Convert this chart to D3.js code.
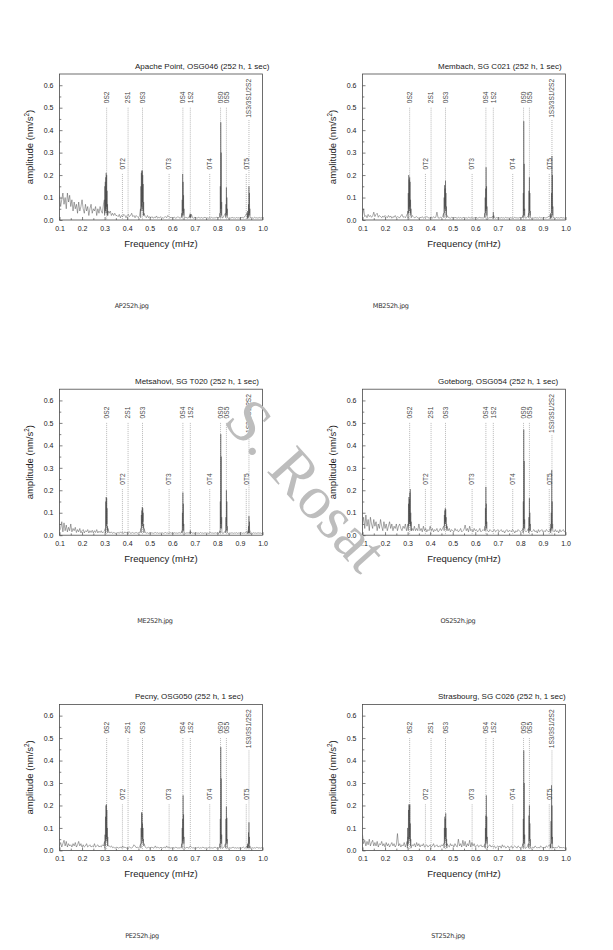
<!DOCTYPE html>
<html>
<head>
<meta charset="utf-8">
<script src="https://cdn.jsdelivr.net/npm/d3@7/dist/d3.min.js"></script>
<style>
html,body{margin:0;padding:0;background:#fff;}
svg{display:block;}
</style>
</head>
<body>
<script>
// ---------- DATA ----------
const stationTitles = [
  "Apache Point, OSG046 (252 h, 1 sec)",
  "Membach, SG C021 (252 h, 1 sec)",
  "Metsahovi, SG T020 (252 h, 1 sec)",
  "Goteborg, OSG054 (252 h, 1 sec)",
  "Pecny, OSG050 (252 h, 1 sec)",
  "Strasbourg, SG C026 (252 h, 1 sec)"
];
const captions = ["AP252h.jpg","MB252h.jpg","ME252h.jpg","OS252h.jpg","PE252h.jpg","ST252h.jpg"];
const freqTicks = [0.1,0.2,0.3,0.4,0.5,0.6,0.7,0.8,0.9,1.0];
const ampTicks = [0.0,0.1,0.2,0.3,0.4,0.5,0.6];
const modeNames = ["0S2","2S1","0S3","0S4","1S2","0S0","0S5","1S3/3S1/2S2","0T2","0T3","0T4","0T5"];
const modeFreqs = [0.309,0.404,0.468,0.647,0.680,0.814,0.840,0.940,0.379,0.586,0.766,0.928];
const modeLabelAmp = [0.52,0.52,0.52,0.52,0.52,0.52,0.52,0.455,0.225,0.225,0.225,0.225];
const modeLineTop = [0.50,0.50,0.50,0.50,0.50,0.50,0.50,0.445,0.205,0.205,0.205,0.205];

// background spectrum, amplitude (nm/s^2) every 0.005 mHz from 0.100 to 1.000
const noiseAP = [
0.11,0.06,0.09,0.12,0.07,0.10,0.05,0.12,0.08,0.11,0.06,
0.09,0.04,0.08,0.05,0.07,0.03,0.08,0.04,0.06,0.09,
0.05,0.03,0.07,0.04,0.06,0.02,0.05,0.07,0.03,0.05,
0.04,0.06,0.02,0.05,0.03,0.06,0.04,0.03,0.07,0.05,
0.06,0.08,0.05,0.03,0.04,0.02,0.03,0.02,0.03,0.02,
0.02,0.015,0.025,0.01,0.02,0.015,0.025,0.02,0.01,0.02,
0.025,0.015,0.02,0.03,0.015,0.02,0.01,0.02,0.015,0.01,
0.02,0.05,0.08,0.1,0.03,0.015,0.01,0.02,0.01,0.015,
0.01,0.015,0.008,0.012,0.01,0.018,0.008,0.012,0.01,0.015,
0.01,0.008,0.012,0.015,0.01,0.02,0.015,0.01,0.012,0.008,
0.01,0.012,0.008,0.01,0.015,0.01,0.008,0.012,0.03,0.04,
0.01,0.012,0.01,0.008,0.015,0.02,0.025,0.01,0.008,0.012,
0.01,0.008,0.012,0.01,0.009,0.011,0.008,0.01,0.012,0.009,
0.01,0.008,0.011,0.009,0.012,0.008,0.01,0.009,0.012,0.01,
0.01,0.015,0.02,0.012,0.01,0.02,0.03,0.04,0.01,0.008,
0.01,0.008,0.012,0.009,0.01,0.008,0.011,0.009,0.01,0.008,
0.01,0.012,0.008,0.015,0.02,0.03,0.04,0.05,0.02,0.01,
0.01,0.008,0.012,0.009,0.01,0.008,0.011,0.009,0.01,0.008];
const noiseMB = [
0.02,0.05,0.015,0.02,0.01,0.025,0.015,0.02,0.012,0.018,0.035,
0.015,0.025,0.03,0.012,0.02,0.015,0.01,0.018,0.012,0.02,
0.015,0.01,0.02,0.012,0.018,0.008,0.015,0.012,0.02,0.01,
0.015,0.012,0.01,0.018,0.025,0.012,0.015,0.01,0.02,0.03,
0.03,0.05,0.04,0.02,0.015,0.01,0.012,0.015,0.01,0.008,
0.012,0.01,0.015,0.008,0.012,0.01,0.015,0.012,0.008,0.01,
0.012,0.008,0.015,0.01,0.012,0.035,0.01,0.008,0.012,0.01,
0.015,0.02,0.04,0.05,0.02,0.012,0.01,0.008,0.012,0.01,
0.008,0.012,0.01,0.008,0.012,0.009,0.011,0.008,0.01,0.012,
0.009,0.01,0.008,0.012,0.01,0.009,0.011,0.008,0.01,0.009,
0.011,0.008,0.01,0.012,0.009,0.01,0.008,0.012,0.02,0.03,
0.01,0.008,0.012,0.009,0.015,0.02,0.01,0.008,0.011,0.009,
0.01,0.008,0.011,0.009,0.01,0.008,0.012,0.009,0.01,0.008,
0.011,0.009,0.01,0.008,0.012,0.009,0.01,0.008,0.011,0.009,
0.01,0.012,0.02,0.01,0.008,0.012,0.02,0.03,0.01,0.008,
0.01,0.008,0.011,0.009,0.01,0.008,0.012,0.009,0.01,0.008,
0.011,0.009,0.01,0.012,0.015,0.02,0.025,0.04,0.015,0.01,
0.008,0.011,0.009,0.01,0.008,0.012,0.009,0.01,0.008,0.01];
const noiseME = [
0.02,0.03,0.06,0.015,0.055,0.02,0.045,0.015,0.035,0.02,0.05,
0.015,0.03,0.02,0.035,0.012,0.025,0.015,0.03,0.01,0.02,
0.025,0.01,0.02,0.015,0.025,0.01,0.02,0.012,0.022,0.01,
0.02,0.012,0.025,0.01,0.018,0.012,0.02,0.01,0.015,0.02,
0.04,0.05,0.03,0.012,0.01,0.015,0.008,0.012,0.01,0.008,
0.01,0.012,0.008,0.015,0.01,0.012,0.008,0.015,0.01,0.012,
0.01,0.015,0.008,0.01,0.012,0.008,0.01,0.012,0.009,0.011,
0.012,0.02,0.05,0.06,0.03,0.012,0.009,0.011,0.008,0.01,
0.009,0.011,0.008,0.01,0.012,0.009,0.011,0.008,0.01,0.009,
0.011,0.008,0.01,0.012,0.009,0.01,0.008,0.012,0.009,0.01,
0.008,0.011,0.009,0.01,0.008,0.012,0.009,0.01,0.02,0.03,
0.01,0.008,0.011,0.009,0.012,0.02,0.012,0.009,0.01,0.008,
0.011,0.009,0.01,0.008,0.012,0.009,0.01,0.008,0.011,0.009,
0.01,0.008,0.011,0.012,0.009,0.01,0.008,0.011,0.009,0.01,
0.008,0.011,0.02,0.01,0.008,0.011,0.02,0.03,0.01,0.008,
0.01,0.009,0.011,0.008,0.01,0.009,0.011,0.008,0.01,0.009,
0.011,0.008,0.01,0.009,0.012,0.015,0.02,0.03,0.015,0.01,
0.008,0.011,0.009,0.01,0.008,0.011,0.009,0.01,0.008,0.009];
const noiseOS = [
0.05,0.08,0.03,0.09,0.04,0.07,0.02,0.08,0.05,0.03,0.07,
0.04,0.06,0.02,0.05,0.03,0.07,0.04,0.02,0.06,0.03,
0.05,0.02,0.04,0.06,0.03,0.05,0.02,0.04,0.03,0.05,
0.02,0.04,0.05,0.03,0.02,0.04,0.03,0.05,0.02,0.04,
0.05,0.06,0.04,0.03,0.02,0.04,0.02,0.03,0.02,0.05,
0.02,0.03,0.015,0.04,0.02,0.03,0.015,0.025,0.02,0.04,
0.02,0.03,0.015,0.025,0.02,0.03,0.015,0.02,0.03,0.02,
0.03,0.04,0.06,0.07,0.04,0.02,0.03,0.015,0.025,0.02,
0.015,0.03,0.02,0.025,0.015,0.02,0.03,0.015,0.02,0.025,
0.045,0.02,0.03,0.015,0.04,0.02,0.025,0.015,0.03,0.02,
0.025,0.015,0.02,0.03,0.015,0.02,0.025,0.02,0.04,0.06,
0.02,0.015,0.025,0.02,0.015,0.02,0.025,0.015,0.02,0.025,
0.015,0.02,0.025,0.015,0.02,0.01,0.02,0.025,0.015,0.02,
0.02,0.015,0.025,0.02,0.01,0.02,0.015,0.025,0.02,0.015,
0.02,0.025,0.04,0.02,0.015,0.02,0.03,0.04,0.02,0.015,
0.02,0.025,0.015,0.02,0.01,0.025,0.015,0.02,0.025,0.015,
0.02,0.015,0.025,0.02,0.015,0.02,0.03,0.05,0.02,0.015,
0.025,0.015,0.02,0.01,0.025,0.015,0.02,0.025,0.015,0.02];
const noisePE = [
0.02,0.035,0.015,0.03,0.045,0.02,0.04,0.015,0.03,0.02,0.025,
0.015,0.03,0.02,0.035,0.015,0.025,0.04,0.02,0.03,0.015,
0.025,0.015,0.02,0.03,0.015,0.02,0.025,0.015,0.02,0.015,
0.03,0.015,0.02,0.025,0.015,0.02,0.015,0.025,0.02,0.03,
0.05,0.06,0.04,0.02,0.015,0.02,0.012,0.015,0.01,0.012,
0.015,0.01,0.012,0.015,0.01,0.02,0.012,0.015,0.01,0.012,
0.01,0.015,0.012,0.01,0.015,0.025,0.02,0.012,0.015,0.01,
0.015,0.03,0.06,0.07,0.03,0.015,0.01,0.012,0.015,0.01,
0.012,0.015,0.01,0.012,0.02,0.01,0.015,0.012,0.01,0.015,
0.01,0.012,0.015,0.01,0.02,0.012,0.015,0.01,0.012,0.01,
0.012,0.01,0.015,0.012,0.01,0.012,0.01,0.015,0.03,0.05,
0.012,0.01,0.015,0.01,0.012,0.02,0.015,0.01,0.012,0.01,
0.012,0.01,0.015,0.01,0.012,0.01,0.015,0.012,0.01,0.012,
0.01,0.012,0.015,0.01,0.012,0.01,0.012,0.015,0.01,0.012,
0.01,0.015,0.02,0.012,0.01,0.015,0.03,0.05,0.012,0.01,
0.012,0.01,0.012,0.015,0.01,0.012,0.01,0.012,0.01,0.012,
0.01,0.012,0.015,0.01,0.012,0.015,0.02,0.04,0.015,0.01,
0.012,0.01,0.012,0.01,0.015,0.01,0.012,0.01,0.012,0.01];
const noiseST = [
0.07,0.03,0.045,0.02,0.04,0.025,0.05,0.02,0.035,0.045,0.02,
0.035,0.02,0.04,0.015,0.03,0.025,0.04,0.02,0.03,0.015,
0.035,0.02,0.03,0.015,0.025,0.035,0.02,0.03,0.015,0.025,
0.075,0.02,0.03,0.015,0.025,0.02,0.035,0.015,0.03,0.04,
0.06,0.07,0.03,0.025,0.02,0.03,0.015,0.035,0.02,0.03,
0.015,0.025,0.02,0.03,0.015,0.02,0.025,0.015,0.02,0.025,
0.015,0.02,0.03,0.015,0.02,0.025,0.015,0.02,0.015,0.025,
0.02,0.03,0.06,0.07,0.03,0.02,0.015,0.03,0.02,0.025,
0.015,0.03,0.02,0.015,0.05,0.02,0.03,0.015,0.045,0.02,
0.04,0.015,0.03,0.02,0.045,0.015,0.035,0.02,0.03,0.015,
0.02,0.025,0.015,0.02,0.025,0.015,0.02,0.015,0.04,0.06,
0.015,0.02,0.025,0.015,0.02,0.015,0.02,0.01,0.015,0.02,
0.015,0.02,0.01,0.025,0.015,0.02,0.01,0.015,0.02,0.01,
0.015,0.02,0.01,0.015,0.02,0.015,0.01,0.02,0.015,0.01,
0.015,0.02,0.04,0.015,0.01,0.015,0.03,0.05,0.015,0.01,
0.015,0.01,0.02,0.015,0.01,0.015,0.01,0.02,0.015,0.01,
0.015,0.01,0.02,0.015,0.02,0.025,0.03,0.05,0.015,0.01,
0.015,0.01,0.015,0.02,0.01,0.015,0.01,0.015,0.01,0.015];

// peak clusters: [start frequency (mHz), amplitudes every 0.001 mHz]
const peaksAP = [
[0.299,[0.09,0.02,0.15,0.03,0.17,0.04,0.19,0.05,0.21,0.06,0.20,0.03,0.13,0.02,0.07,0.02,0.04]],
[0.459,[0.05,0.01,0.15,0.04,0.21,0.06,0.22,0.05,0.22,0.08,0.20,0.04,0.16,0.02,0.08,0.02]],
[0.642,[0.03,0.01,0.09,0.02,0.205,0.04,0.17,0.03,0.11,0.02,0.05,0.01]],
[0.677,[0.02,0.01,0.028,0.012,0.025,0.01]],
[0.811,[0.03,0.01,0.15,0.03,0.435,0.05,0.30,0.02,0.08,0.01]],
[0.836,[0.03,0.01,0.07,0.02,0.145,0.03,0.10,0.02,0.05,0.01]],
[0.932,[0.02,0.005,0.04,0.01,0.03,0.01,0.07,0.02,0.15,0.03,0.12,0.02,0.05,0.01]]];
const peaksMB = [
[0.301,[0.04,0.01,0.12,0.03,0.20,0.05,0.18,0.04,0.19,0.06,0.17,0.03,0.09,0.02,0.05,0.01]],
[0.460,[0.03,0.01,0.10,0.03,0.155,0.05,0.14,0.06,0.175,0.04,0.12,0.02,0.06,0.01]],
[0.642,[0.03,0.01,0.10,0.03,0.14,0.04,0.235,0.05,0.15,0.02,0.06,0.01]],
[0.678,[0.015,0.005,0.035,0.01,0.02]],
[0.811,[0.02,0.01,0.12,0.02,0.44,0.04,0.25,0.02,0.05,0.01]],
[0.836,[0.03,0.01,0.13,0.03,0.19,0.04,0.12,0.02,0.04,0.01]],
[0.932,[0.015,0.005,0.03,0.01,0.025,0.01,0.12,0.03,0.285,0.05,0.20,0.02,0.06,0.01]]];
const peaksME = [
[0.303,[0.03,0.01,0.15,0.03,0.17,0.04,0.165,0.05,0.12,0.02,0.04,0.01]],
[0.461,[0.03,0.01,0.09,0.03,0.11,0.05,0.125,0.04,0.12,0.06,0.10,0.03,0.05,0.01]],
[0.643,[0.02,0.01,0.10,0.02,0.19,0.04,0.14,0.02,0.05,0.01]],
[0.678,[0.012,0.005,0.022,0.008,0.015]],
[0.811,[0.02,0.01,0.15,0.03,0.45,0.05,0.35,0.03,0.08,0.01]],
[0.836,[0.02,0.01,0.08,0.02,0.20,0.04,0.15,0.02,0.04,0.01]],
[0.934,[0.01,0.005,0.02,0.01,0.04,0.01,0.085,0.02,0.06,0.01,0.02,0.005]]];
const peaksOS = [
[0.302,[0.05,0.02,0.14,0.04,0.17,0.05,0.16,0.06,0.19,0.05,0.205,0.04,0.10,0.02,0.06,0.02]],
[0.461,[0.04,0.02,0.09,0.04,0.11,0.05,0.12,0.06,0.115,0.05,0.08,0.03,0.05,0.02]],
[0.643,[0.04,0.02,0.12,0.04,0.215,0.05,0.14,0.03,0.06,0.02]],
[0.811,[0.03,0.01,0.15,0.03,0.47,0.05,0.33,0.03,0.07,0.02]],
[0.836,[0.03,0.01,0.08,0.02,0.165,0.04,0.10,0.02,0.05,0.02]],
[0.933,[0.03,0.01,0.05,0.02,0.10,0.03,0.29,0.05,0.15,0.03,0.05,0.02]]];
const peaksPE = [
[0.300,[0.04,0.01,0.07,0.02,0.15,0.04,0.20,0.05,0.205,0.06,0.18,0.04,0.10,0.02,0.06,0.02]],
[0.460,[0.03,0.01,0.10,0.03,0.17,0.06,0.165,0.05,0.12,0.04,0.10,0.03,0.05,0.02]],
[0.642,[0.03,0.01,0.10,0.03,0.14,0.04,0.245,0.05,0.16,0.03,0.06,0.01]],
[0.811,[0.03,0.01,0.14,0.03,0.46,0.05,0.32,0.03,0.07,0.01]],
[0.836,[0.03,0.01,0.14,0.03,0.195,0.04,0.145,0.03,0.05,0.01]],
[0.932,[0.02,0.01,0.03,0.01,0.025,0.01,0.08,0.02,0.125,0.03,0.06,0.01,0.02,0.01]]];
const peaksST = [
[0.298,[0.04,0.01,0.10,0.02,0.06,0.03,0.18,0.05,0.205,0.06,0.20,0.05,0.205,0.04,0.12,0.02,0.05,0.01]],
[0.461,[0.03,0.01,0.10,0.03,0.15,0.05,0.14,0.06,0.165,0.04,0.10,0.02,0.05,0.01]],
[0.643,[0.03,0.01,0.10,0.03,0.155,0.04,0.245,0.05,0.15,0.03,0.06,0.01]],
[0.811,[0.03,0.01,0.14,0.03,0.445,0.05,0.30,0.03,0.07,0.01]],
[0.836,[0.03,0.01,0.155,0.04,0.20,0.05,0.12,0.02,0.05,0.01]],
[0.932,[0.02,0.01,0.03,0.01,0.13,0.03,0.29,0.05,0.20,0.03,0.06,0.01]]];

const noiseSets = [noiseAP,noiseMB,noiseME,noiseOS,noisePE,noiseST];
const peakSets = [peaksAP,peaksMB,peaksME,peaksOS,peaksPE,peaksST];
const gridStep = 0.005, clusterStep = 0.001, gridStart = 0.1;

// ---------- LAYOUT ----------
const W = 613, H = 950;
const colX = [59.5, 362.5], rowY = [74, 389.2, 704.4];
const pw = 203, ph = 146;
const captionX = [131.7, 390.7, 155, 458, 142, 448];
const SANS = '"Liberation Sans",Arial,sans-serif';

const svg = d3.select("body").append("svg").attr("width", W).attr("height", H)
  .style("font-family", SANS);
svg.append("rect").attr("width", W).attr("height", H).attr("fill", "#fff");

function buildSeries(noise, peaks) {
  const ranges = peaks.map(p => [p[0], p[0] + (p[1].length - 1) * clusterStep]);
  const pts = [];
  noise.forEach((a, i) => {
    const f = gridStart + i * gridStep;
    if (!ranges.some(r => f > r[0] - 1e-9 && f < r[1] + 1e-9)) pts.push([f, a]);
  });
  peaks.forEach(p => p[1].forEach((a, j) => pts.push([p[0] + j * clusterStep, a])));
  pts.sort((a, b) => a[0] - b[0]);
  return pts;
}

stationTitles.forEach((title, i) => {
  const col = i % 2, row = Math.floor(i / 2);
  const L = colX[col], T = rowY[row];
  const g = svg.append("g").attr("transform", `translate(${L},${T})`);
  const x = d3.scaleLinear().domain([0.1, 1.0]).range([0, pw]);
  const y = d3.scaleLinear().domain([0, 0.65]).range([ph, 0]);

  const clipId = "clip" + i;
  g.append("clipPath").attr("id", clipId).append("rect").attr("width", pw).attr("height", ph);

  // mode guide lines
  const guides = g.append("g").attr("clip-path", `url(#${clipId})`);
  modeNames.forEach((m, k) => {
    guides.append("line")
      .attr("x1", x(modeFreqs[k])).attr("x2", x(modeFreqs[k]))
      .attr("y1", y(modeLineTop[k])).attr("y2", y(0))
      .attr("stroke", "#8a8a8a").attr("stroke-width", 0.6)
      .attr("stroke-dasharray", "1,1");
  });

  // spectrum
  const series = buildSeries(noiseSets[i], peakSets[i]);
  const line = d3.line().x(d => x(d[0])).y(d => y(d[1]));
  g.append("path").datum(series)
    .attr("clip-path", `url(#${clipId})`)
    .attr("d", line).attr("fill", "none")
    .attr("stroke", "#404040").attr("stroke-width", 0.45)
    .attr("stroke-linejoin", "round");

  // mode labels
  modeNames.forEach((m, k) => {
    g.append("text")
      .attr("transform", `translate(${x(modeFreqs[k])},${y(modeLabelAmp[k])}) rotate(-90)`)
      .attr("dy", "0.35em")
      .attr("font-size", 6.6).attr("fill", "#444")
      .text(m);
  });

  // frame
  g.append("rect").attr("width", pw).attr("height", ph)
    .attr("fill", "none").attr("stroke", "#4a4a4a").attr("stroke-width", 0.8);

  // axes
  const xAxis = d3.axisBottom(x).tickValues(freqTicks).tickFormat(d3.format(".1f"))
    .tickSizeInner(-3).tickSizeOuter(0).tickPadding(6);
  const gx = g.append("g").attr("transform", `translate(0,${ph})`).call(xAxis);
  const xMinor = d3.axisBottom(x).tickValues(d3.range(0.15, 1.0, 0.1)).tickFormat("")
    .tickSizeInner(-1.8).tickSizeOuter(0);
  const gxm = g.append("g").attr("transform", `translate(0,${ph})`).call(xMinor);

  const yAxis = d3.axisLeft(y).tickValues(ampTicks).tickFormat(d3.format(".1f"))
    .tickSizeInner(-3).tickSizeOuter(0).tickPadding(6);
  const gy = g.append("g").call(yAxis);
  const yMinor = d3.axisLeft(y).tickValues(d3.range(0.05, 0.65, 0.1)).tickFormat("")
    .tickSizeInner(-1.8).tickSizeOuter(0);
  const gym = g.append("g").call(yMinor);

  [gx, gxm, gy, gym].forEach(a => {
    a.attr("font-family", null);
    a.select(".domain").remove();
    a.selectAll("line").attr("stroke", "#4a4a4a").attr("stroke-width", 0.7);
    a.selectAll("text").attr("font-size", 7).attr("fill", "#222")
      .style("font-family", SANS);
  });

  // axis titles
  g.append("text").attr("x", pw / 2).attr("y", ph + 26.5)
    .attr("text-anchor", "middle").attr("font-size", 9.5).attr("fill", "#222")
    .text("Frequency (mHz)");
  const yl = g.append("text")
    .attr("transform", `translate(${-26.5},${ph / 2}) rotate(-90)`)
    .attr("text-anchor", "middle").attr("font-size", 9.5).attr("fill", "#222");
  yl.append("tspan").text("amplitude (nm/s");
  yl.append("tspan").attr("font-size", 6.3).attr("dy", -3.6).text("2");
  yl.append("tspan").attr("dy", 3.6).text(")");

  // title
  g.append("text").attr("x", 75.5).attr("y", -5.5)
    .attr("font-size", 8).attr("fill", "#222").text(title);

  // caption
  svg.append("text").attr("x", captionX[i]).attr("y", T + 234)
    .attr("text-anchor", "middle").attr("font-size", 6.5).attr("fill", "#333")
    .style("font-family", '"DejaVu Sans",sans-serif').attr("letter-spacing", -0.3)
    .text(captions[i]);
});

// watermark
svg.append("text")
  .attr("transform", "translate(222,422) rotate(48)")
  .style("font-family", '"Liberation Serif","DejaVu Serif",serif')
  .attr("font-size", 62).attr("fill", "#bdbdbd")
  .text("S. Rosat");
</script>
</body>
</html>
